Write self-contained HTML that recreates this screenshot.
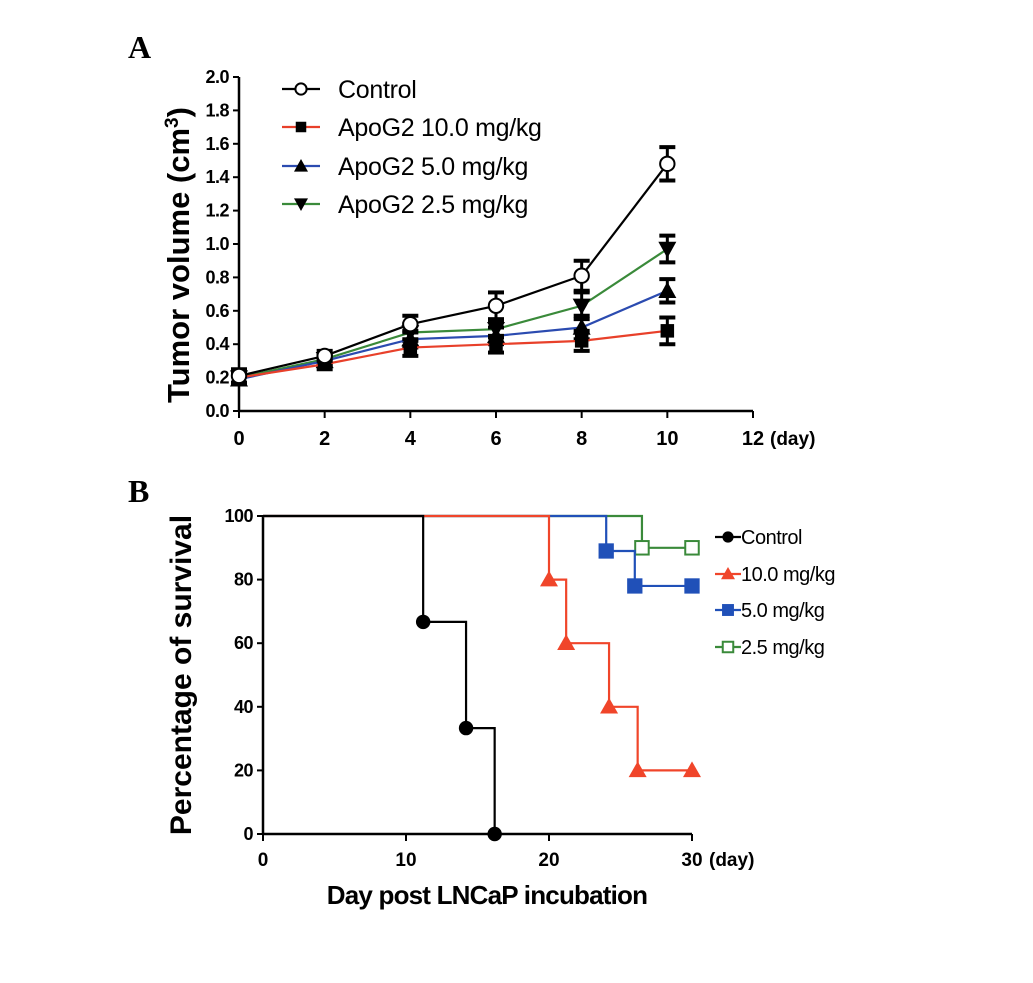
<!DOCTYPE html>
<html><head><meta charset="utf-8"><style>
body{margin:0;background:#fff}
svg{display:block;font-family:"Liberation Sans",Arial,sans-serif}
</style></head><body>
<svg id="fig" width="1033" height="983" viewBox="0 0 1033 983" xmlns="http://www.w3.org/2000/svg">
<text x="128" y="58" font-family="Liberation Serif,serif" font-weight="bold" font-size="32">A</text>
<text x="128" y="502" font-family="Liberation Serif,serif" font-weight="bold" font-size="32">B</text>
<g id="chartA"></g>
<g id="chartB"></g>
</svg>
<script>
// ---- Chart A data ----
const daysA=[0,2,4,6,8,10];
const ctrlVals=[0.21,0.33,0.52,0.63,0.81,1.48];
const ctrlErr=[0.04,0.03,0.05,0.08,0.09,0.10];
const d10Vals=[0.20,0.28,0.38,0.40,0.42,0.48];
const d10Err=[0.03,0.03,0.05,0.05,0.06,0.08];
const d5Vals=[0.19,0.30,0.43,0.45,0.50,0.72];
const d5Err=[0.03,0.03,0.05,0.05,0.07,0.07];
const d25Vals=[0.20,0.31,0.47,0.49,0.63,0.97];
const d25Err=[0.03,0.03,0.05,0.05,0.08,0.08];
const yTicksA=["0.0","0.2","0.4","0.6","0.8","1.0","1.2","1.4","1.6","1.8","2.0"];
const xTicksA=[0,2,4,6,8,10,12];
// ---- Chart B data ----
const ctrlSteps=[[0,100],[11.2,66.7],[14.2,33.3],[16.2,0]];
const ctrlMarks=[[11.2,66.7],[14.2,33.3],[16.2,0]];
const s10Steps=[[0,100],[20,80],[21.2,60],[24.2,40],[26.2,20],[30,20]];
const s10Marks=[[20,80],[21.2,60],[24.2,40],[26.2,20],[30,20]];
const s5Steps=[[0,100],[24,89],[26,78],[30,78]];
const s5Marks=[[24,89],[26,78],[30,78]];
const s25Steps=[[0,100],[26.5,90],[30,90]];
const s25Marks=[[26.5,90],[30,90]];
const yTicksB=[0,20,40,60,80,100];
const xTicksB=[0,10,20,30];

const NS="http://www.w3.org/2000/svg";
function mk(p,t,a){const e=document.createElementNS(NS,t);for(const k in a)e.setAttribute(k,a[k]);p.appendChild(e);return e;}

// ---- Chart A ----
const A=document.getElementById('chartA');
const xA=d=>239+d*(753-239)/12;
const yA=v=>411-v*(411-77)/2;
let e;
e=mk(A,'line',{x1:xA(0),y1:yA(0),x2:xA(0),y2:yA(2),stroke:'#000','stroke-width':2.5});


e=mk(A,'line',{x1:xA(0),y1:yA(0),x2:xA(12),y2:yA(0),stroke:'#000','stroke-width':2.5});


yTicksA.forEach(t=>{const v=parseFloat(t);mk(A,'line',{x1:xA(0)-6,y1:yA(v),x2:xA(0),y2:yA(v),stroke:'#000','stroke-width':2});
 e=mk(A,'text',{x:xA(0)-10,y:yA(v)+6,'text-anchor':'end','font-weight':'bold','font-size':18,'letter-spacing':'-0.5'});e.textContent=t;
 
 });
xTicksA.forEach(d=>{mk(A,'line',{x1:xA(d),y1:yA(0),x2:xA(d),y2:yA(0)+7,stroke:'#000','stroke-width':2});
 e=mk(A,'text',{x:xA(d),y:445,'text-anchor':'middle','font-weight':'bold','font-size':20});e.textContent=d;
 
 });
e=mk(A,'text',{x:770,y:445,'font-weight':'bold','font-size':19});e.textContent='(day)';


e=mk(A,'text',{transform:'translate(189,255) rotate(-90)','text-anchor':'middle','font-weight':'bold','font-size':31});
e.innerHTML='Tumor volume (cm<tspan dy="-11" font-size="19">3</tspan><tspan dy="11">)</tspan>';



const seriesA=[[ctrlVals,ctrlErr,'#000','circle'],[d10Vals,d10Err,'#e8402a','square'],[d5Vals,d5Err,'#2b4bb0','tri'],[d25Vals,d25Err,'#3a8a3a','tridown']];
function marker(p,type,x,y,s){
 if(type==='circle')return mk(p,'circle',{cx:x,cy:y,r:s*0.8,fill:'#fff',stroke:'#000','stroke-width':2});
 if(type==='square')return mk(p,'rect',{x:x-s*0.75,y:y-s*0.75,width:s*1.5,height:s*1.5,fill:'#000'});
 if(type==='tri')return mk(p,'polygon',{points:`${x},${y-s} ${x-s},${y+s*0.8} ${x+s},${y+s*0.8}`,fill:'#000'});
 return mk(p,'polygon',{points:`${x},${y+s} ${x-s},${y-s*0.8} ${x+s},${y-s*0.8}`,fill:'#000'});
}
seriesA.slice().reverse().forEach(([vals,err,col,type])=>{
 const g=mk(A,'g',{});
 
 
 mk(g,'polyline',{points:vals.map((v,i)=>xA(daysA[i])+','+yA(v)).join(' '),fill:'none',stroke:col,'stroke-width':2.2});
 vals.forEach((v,i)=>{const x=xA(daysA[i]);
  mk(g,'line',{x1:x,y1:yA(v-err[i]),x2:x,y2:yA(v+err[i]),stroke:'#000','stroke-width':3});
  mk(g,'line',{x1:x-8,y1:yA(v-err[i]),x2:x+8,y2:yA(v-err[i]),stroke:'#000','stroke-width':4});
  mk(g,'line',{x1:x-8,y1:yA(v+err[i]),x2:x+8,y2:yA(v+err[i]),stroke:'#000','stroke-width':4});
  const m=marker(g,type,x,yA(v),9);
  
  
 });
});
const legA=['Control','ApoG2 10.0 mg/kg','ApoG2 5.0 mg/kg','ApoG2 2.5 mg/kg'];
const legAy=[89,127,166,204];
seriesA.forEach(([v,er,col,type],i)=>{
 const g=mk(A,'g',{});
 
 
 mk(g,'line',{x1:282,y1:legAy[i],x2:320,y2:legAy[i],stroke:col,'stroke-width':2.2});
 marker(g,type,301,legAy[i],7);
 const t=mk(g,'text',{x:338,y:legAy[i]+9,'font-size':25,'letter-spacing':'-0.3'});t.textContent=legA[i];
});

// ---- Chart B ----
const B=document.getElementById('chartB');
const xB=d=>263+d*(692-263)/30;
const yB=v=>834-v*(834-516)/100;
e=mk(B,'line',{x1:xB(0),y1:yB(0),x2:xB(0),y2:yB(100),stroke:'#000','stroke-width':2.5});


e=mk(B,'line',{x1:xB(0),y1:yB(0),x2:xB(30),y2:yB(0),stroke:'#000','stroke-width':2.5});


yTicksB.forEach(v=>{mk(B,'line',{x1:xB(0)-6,y1:yB(v),x2:xB(0),y2:yB(v),stroke:'#000','stroke-width':2});
 e=mk(B,'text',{x:xB(0)-10,y:yB(v)+6,'text-anchor':'end','font-weight':'bold','font-size':18,'letter-spacing':'-0.5'});e.textContent=v;
 
 });
xTicksB.forEach(d=>{mk(B,'line',{x1:xB(d),y1:yB(0),x2:xB(d),y2:yB(0)+7,stroke:'#000','stroke-width':2});
 e=mk(B,'text',{x:xB(d),y:866,'text-anchor':'middle','font-weight':'bold','font-size':19});e.textContent=d;
 
 });
e=mk(B,'text',{x:709,y:866,'font-weight':'bold','font-size':19});e.textContent='(day)';


e=mk(B,'text',{transform:'translate(191,675) rotate(-90)','text-anchor':'middle','font-weight':'bold','font-size':30});e.textContent='Percentage of survival';


e=mk(B,'text',{x:487,y:904,'text-anchor':'middle','font-weight':'bold','font-size':26,'letter-spacing':'-0.8'});e.textContent='Day post LNCaP incubation';



function markB(p,type,x,y,col,s){
 if(type==='dot')return mk(p,'circle',{cx:x,cy:y,r:s*0.8,fill:'#000'});
 if(type==='tri')return mk(p,'polygon',{points:`${x},${y-s} ${x-s},${y+s*0.75} ${x+s},${y+s*0.75}`,fill:col});
 if(type==='sq')return mk(p,'rect',{x:x-s*0.85,y:y-s*0.85,width:s*1.7,height:s*1.7,fill:col});
 return mk(p,'rect',{x:x-s*0.75,y:y-s*0.75,width:s*1.5,height:s*1.5,fill:'#fff',stroke:col,'stroke-width':2});
}
const seriesB=[[ctrlSteps,ctrlMarks,'#000','dot','Control'],[s10Steps,s10Marks,'#f0452a','tri','10.0 mg/kg'],[s5Steps,s5Marks,'#2050b8','sq','5.0 mg/kg'],[s25Steps,s25Marks,'#3a8a3a','open','2.5 mg/kg']];
seriesB.slice().reverse().forEach(([steps,marks,col,type])=>{
 const g=mk(B,'g',{});
 
 
 let pts=[];
 steps.forEach((p,i)=>{ if(i>0)pts.push(xB(p[0])+','+yB(steps[i-1][1])); pts.push(xB(p[0])+','+yB(p[1])); });
 mk(g,'polyline',{points:pts.join(' '),fill:'none',stroke:col,'stroke-width':2.2});
 marks.forEach(m=>{const el=markB(g,type,xB(m[0]),yB(m[1]),col,9);
  
  });
});
const legBy=[537,574,610,647];
seriesB.forEach(([s,m,col,type,lab],i)=>{
 const g=mk(B,'g',{});
 
 
 mk(g,'line',{x1:715,y1:legBy[i],x2:741,y2:legBy[i],stroke:col,'stroke-width':2.2});
 markB(g,type,728,legBy[i],col,7);
 const t=mk(g,'text',{x:741,y:legBy[i]+7,'font-size':20,'letter-spacing':'-0.5'});t.textContent=lab;
});
</script>
</body></html>
